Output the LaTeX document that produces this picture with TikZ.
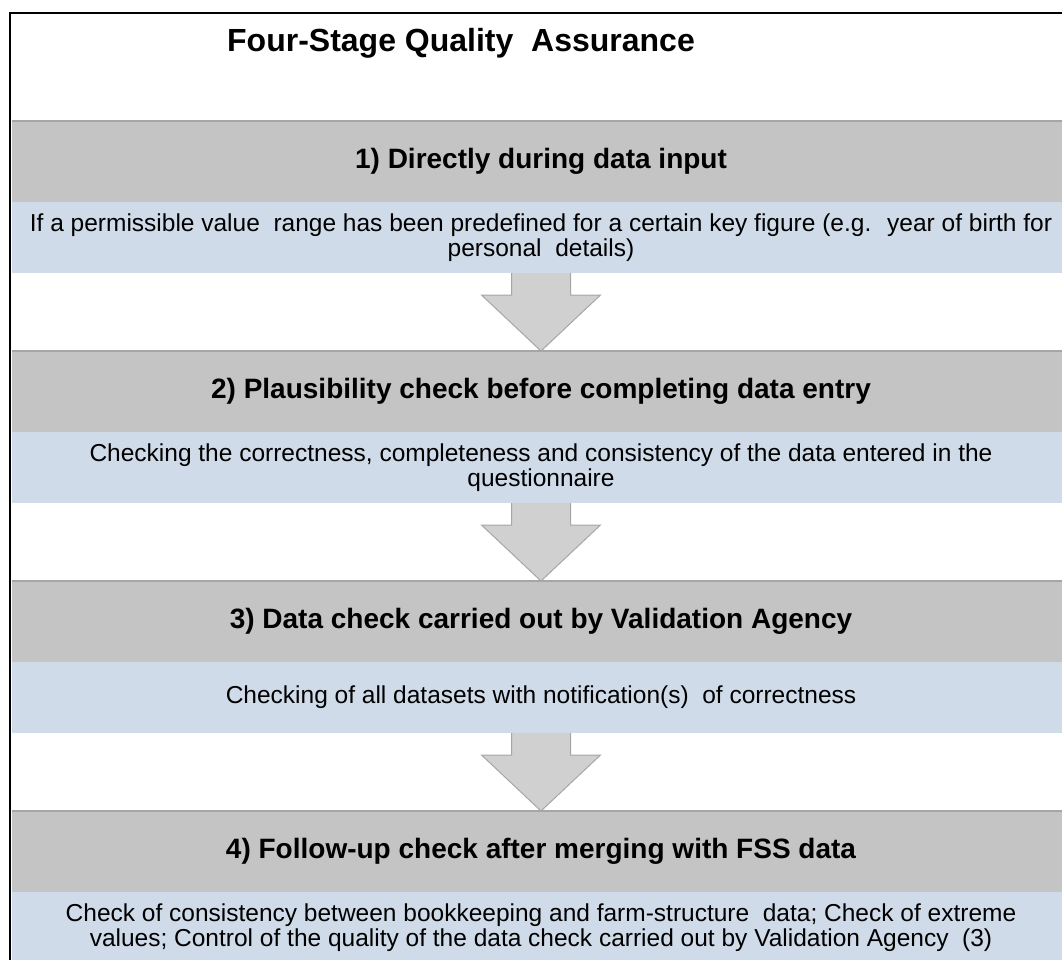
\documentclass[tikz,border=0pt]{standalone}
\usepackage{fontspec}
\setmainfont{Liberation Sans}
\usetikzlibrary{positioning,calc}
\definecolor{headgray}{HTML}{C4C4C4}
\definecolor{rulegray}{HTML}{A6A6A6}
\definecolor{bodyblue}{HTML}{D0DBE9}
\definecolor{arrowgray}{HTML}{D0D0D0}
\tikzset{
    stagehead/.style={fill=headgray, minimum width=1058pt, minimum height=81pt, inner sep=0pt, outer sep=0pt, font=\fontsize{28}{32}\selectfont\bfseries},
    stagebody/.style={fill=bodyblue, minimum width=1058pt, minimum height=71pt, inner sep=0pt, outer sep=0pt, align=center, font=\fontsize{24.5}{25}\selectfont},
    bandrule/.style={draw=rulegray, line width=1.5pt},
    blockarrow/.style={fill=arrowgray, draw=rulegray, line width=1pt, line join=miter},
    frame/.style={draw=black, line width=2pt}
}

\begin{document}
\begin{tikzpicture}[x=1pt, y=-1pt]
    \useasboundingbox (0,0) rectangle (1062,960);
    \node[font=\fontsize{32}{36}\selectfont\bfseries, anchor=base] (title) at (461,52) {Four-Stage Quality~ Assurance};
    \node[stagehead, anchor=north] (head1) at (541,121) {1) Directly during data input};
    \node[stagebody, below=0pt of head1] (body1) {If a permissible value~ range has been predefined for a certain key figure (e.g.~ year of birth for\\personal~ details)};
    \node[stagehead, below=78pt of body1] (head2) {2) Plausibility check before completing data entry};
    \node[stagebody, below=0pt of head2] (body2) {Checking the correctness, completeness and consistency of the data entered in the\\questionnaire};
    \node[stagehead, below=78pt of body2] (head3) {3) Data check carried out by Validation Agency};
    \node[stagebody, below=0pt of head3] (body3) {Checking of all datasets with notification(s)~ of correctness};
    \node[stagehead, below=78pt of body3] (head4) {4) Follow-up check after merging with FSS data};
    \node[stagebody, below=0pt of head4] (body4) {Check of consistency between bookkeeping and farm-structure~ data; Check of extreme\\values; Control of the quality of the data check carried out by Validation Agency~ (3)};
    \foreach \i in {1,...,4}
        \draw[bandrule] (head\i.north west) -- (head\i.north east);
    % block arrows between the stages
    \foreach \i/\j in {1/2,2/3,3/4}
        \draw[blockarrow] ($(body\i.south)+(-29.5,0)$) -- ++(0,22) -- ++(-30,0) -- (head\j.north)
            -- ($(body\i.south)+(59.5,22)$) -- ++(-30,0) -- ($(body\i.south)+(29.5,0)$);
    \draw[frame] (10,13) rectangle (1080,980);
\end{tikzpicture}
\end{document}
